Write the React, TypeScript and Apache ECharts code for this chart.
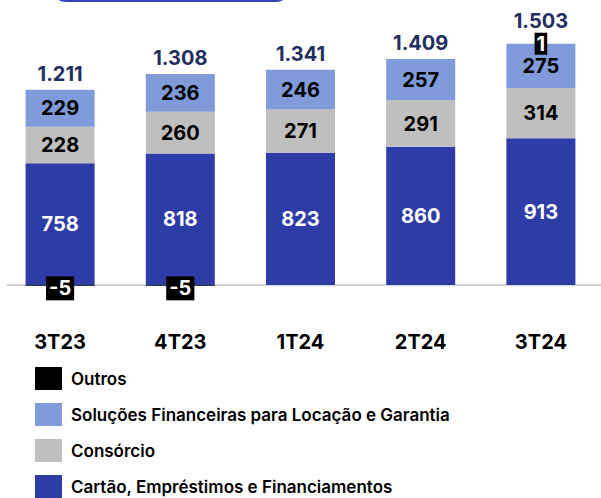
import React, { useEffect, useRef } from "react";
import * as echarts from "echarts";

const categories = ["3T23", "4T23", "1T24", "2T24", "3T24"];
const cartao = [758, 818, 823, 860, 913];
const consorcio = [228, 260, 271, 291, 314];
const solucoes = [229, 236, 246, 257, 275];
const outros = [-5, -5, 0, 0, 1];
const totals = ["1.211", "1.308", "1.341", "1.409", "1.503"];

const names = {
  outros: "Outros",
  solucoes: "Soluções Financeiras para Locação e Garantia",
  consorcio: "Consórcio",
  cartao: "Cartão, Empréstimos e Financiamentos",
};

const FONT = "Inter, Roboto, sans-serif";

export default function App() {
  const ref = useRef<HTMLDivElement>(null);
  useEffect(() => {
    if (!ref.current) return;
    const chart = echarts.init(ref.current, undefined, { renderer: "svg" });
    const innerLabel = (color: string) => ({
      show: true,
      position: "inside",
      color,
      fontFamily: FONT,
      fontWeight: "bold",
      fontSize: 20,
    });
    const barW = 69;
    chart.setOption({
      animation: false,
      grid: { left: -1, right: -22, top: 12, bottom: 197 },
      xAxis: {
        type: "category",
        data: categories,
        axisLine: { show: false, onZero: false },
        axisTick: { show: false },
        axisLabel: {
          color: "#000",
          fontFamily: FONT,
          fontWeight: "bold",
          fontSize: 20,
          margin: 31,
        },
      },
      yAxis: {
        type: "value",
        min: -100,
        max: 1700,
        show: false,
        splitLine: { show: false },
      },
      legend: {
        orient: "vertical",
        left: 35,
        top: 367,
        height: 160,
        padding: 0,
        itemWidth: 27,
        itemHeight: 23,
        itemGap: 13,
        icon: "rect",
        data: [names.outros, names.solucoes, names.consorcio, names.cartao],
        textStyle: {
          color: "#000",
          fontFamily: FONT,
          fontWeight: 600,
          fontSize: 17,
          padding: [0, 0, 0, 4],
        },
      },
      series: [
        {
          name: names.cartao,
          type: "bar",
          stack: "t",
          barWidth: barW,
          data: cartao,
          itemStyle: { color: "#2d3ca6" },
          label: innerLabel("#fff"),
        },
        {
          name: names.consorcio,
          type: "bar",
          stack: "t",
          barWidth: barW,
          data: consorcio,
          itemStyle: { color: "#bfbfbf" },
          label: innerLabel("#000"),
        },
        {
          name: names.solucoes,
          type: "bar",
          stack: "t",
          barWidth: barW,
          data: solucoes,
          itemStyle: { color: "#7f9bd9" },
          label: innerLabel("#000"),
        },
        {
          name: "Total",
          type: "bar",
          stack: "t",
          barWidth: barW,
          data: outros.map((v) => ({
            value: 0,
            label: { offset: v > 0 ? [0, -7] : [0, 0] },
          })),
          itemStyle: { color: "transparent" },
          label: {
            show: true,
            position: "top",
            distance: 6,
            color: "#1f2f5e",
            fontFamily: FONT,
            fontWeight: "bold",
            fontSize: 20,
            formatter: (p: any) => totals[p.dataIndex],
          },
        },
        {
          name: names.outros,
          type: "bar",
          stack: "t",
          barWidth: barW,
          data: outros.map((v) => ({
            value: v,
            label: {
              show: v !== 0,
              offset: v < 0 ? [0, 3] : [0, 0],
              padding: v < 0 ? [3, 3, 1, 3] : [2, 2, 0, 2],
            },
          })),
          itemStyle: { color: "#000" },
          label: {
            show: true,
            position: "inside",
            color: "#fff",
            backgroundColor: "#000",
            fontFamily: FONT,
            fontWeight: "bold",
            fontSize: 20,
          },
        },
      ],
    });
    const y0 = chart.convertToPixel({ yAxisIndex: 0 }, 0) as number;
    chart.setOption({
      graphic: [
        {
          type: "line",
          shape: { x1: 7, y1: y0, x2: 601, y2: y0 },
          style: { stroke: "#c4c4c4", lineWidth: 1.5 },
          z: 0,
        },
        {
          type: "rect",
          shape: { x: 52, y: -40, width: 238, height: 41, r: 14 },
          style: { fill: "#fff", stroke: "#3547b8", lineWidth: 2 },
        },
      ],
    });
    return () => chart.dispose();
  }, []);
  return <div ref={ref} style={{ width: 601, height: 498, position: "absolute", left: 0, top: 0 }} />;
}
